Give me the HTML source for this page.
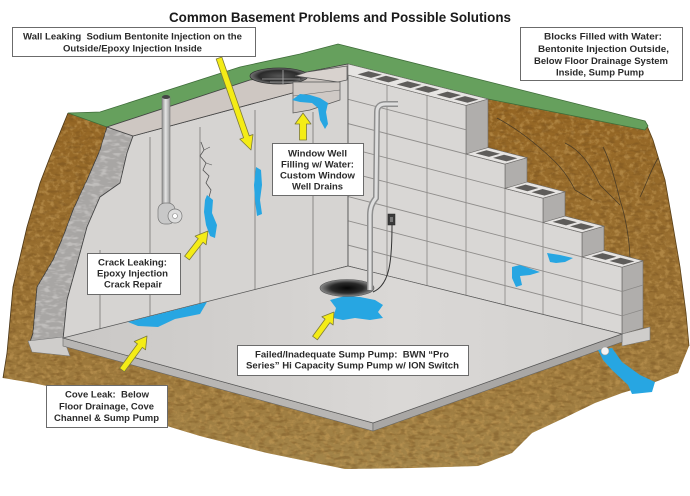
<!DOCTYPE html>
<html><head><meta charset="utf-8"><style>
html,body{margin:0;padding:0;background:#fff;}
svg{display:block;}
text{font-family:"Liberation Sans",Arial,sans-serif;}
</style></head><body>
<svg width="690" height="496" viewBox="0 0 690 496" xmlns="http://www.w3.org/2000/svg">
<defs>
<filter id="mot" filterUnits="userSpaceOnUse" x="0" y="0" width="690" height="496">
<feTurbulence type="fractalNoise" baseFrequency="0.2" numOctaves="3" seed="7" result="n"/>
<feColorMatrix in="n" type="matrix" values="0 0 0 0 0  0 0 0 0 0  0 0 0 0 0  4 0 0 0 -1.9" result="a"/>
<feComposite in="SourceGraphic" in2="a" operator="in"/>
</filter>
<filter id="mot2" filterUnits="userSpaceOnUse" x="0" y="0" width="690" height="496">
<feTurbulence type="fractalNoise" baseFrequency="0.12 0.3" numOctaves="2" seed="3" result="n"/>
<feColorMatrix in="n" type="matrix" values="0 0 0 0 0  0 0 0 0 0  0 0 0 0 0  4 0 0 0 -1.9" result="a"/>
<feComposite in="SourceGraphic" in2="a" operator="in"/>
</filter>
<linearGradient id="earthG" x1="0" y1="0" x2="0" y2="1">
<stop offset="0" stop-color="#93621f"/><stop offset="0.6" stop-color="#9a7234"/><stop offset="1" stop-color="#a3854a"/>
</linearGradient>
<linearGradient id="floorG" x1="0" y1="0" x2="1" y2="0">
<stop offset="0" stop-color="#c9c7c5"/><stop offset="0.6" stop-color="#dad8d6"/><stop offset="1" stop-color="#d3d1cf"/>
</linearGradient>
<linearGradient id="pipeG" x1="0" y1="0" x2="1" y2="0">
<stop offset="0" stop-color="#8e8e8e"/><stop offset="0.45" stop-color="#e6e6e6"/><stop offset="1" stop-color="#9a9a9a"/>
</linearGradient>
<radialGradient id="pitG" cx="0.5" cy="0.5" r="0.5">
<stop offset="0" stop-color="#060606"/><stop offset="0.6" stop-color="#2a2a2a"/><stop offset="1" stop-color="#8a8a8a"/>
</radialGradient>
<radialGradient id="wellG" cx="0.5" cy="0.5" r="0.5">
<stop offset="0" stop-color="#555"/><stop offset="0.7" stop-color="#2a2a2a"/><stop offset="1" stop-color="#777"/>
</radialGradient>
<clipPath id="blockClip">
<polygon points="348,75 466,105.4 466,154 505,164.1 505,188.4 543,198.2 543,222.5 582,232.6 582,256.9 622,267.2 622,334 348,266"/>
</clipPath>
</defs>

<rect width="690" height="496" fill="#fff"/>

<!-- Earth -->
<polygon id="earth" points="68,113 100,112 240,67 300,54 338,44 645,121 653,140 665,180 672,220 680,267 686,313 689,346 678,373 645,386 622,393 595,403 562,419 532,433 512,453 478,466 412,468 345,469 267,453 200,436 167,426 47,386 33,383 3,378 7,353 13,287 27,227 40,183 50,157" fill="url(#earthG)"/>
<polygon points="68,113 100,112 240,67 300,54 338,44 645,121 653,140 665,180 672,220 680,267 686,313 689,346 678,373 645,386 622,393 595,403 562,419 532,433 512,453 478,466 412,468 345,469 267,453 200,436 167,426 47,386 33,383 3,378 7,353 13,287 27,227 40,183 50,157" fill="#c39a56" opacity="0.55" filter="url(#mot)"/>
<polygon points="68,113 100,112 240,67 300,54 338,44 645,121 653,140 665,180 672,220 680,267 686,313 689,346 678,373 645,386 622,393 595,403 562,419 532,433 512,453 478,466 412,468 345,469 267,453 200,436 167,426 47,386 33,383 3,378 7,353 13,287 27,227 40,183 50,157" fill="#6e4a1a" opacity="0.35" filter="url(#mot2)"/>
<polyline points="68,113 50,157 40,183 27,227 13,287 7,353 3,378" fill="none" stroke="#4a3516" stroke-width="0.8"/>
<polyline points="645,121 653,140 665,180 672,220 680,267 686,313 689,346" fill="none" stroke="#5a4018" stroke-width="0.8"/>

<!-- earth cracks right -->
<g fill="none" stroke="#4d3d25" stroke-width="0.8">
<path d="M497,118 C510,125 525,135 540,148 S565,170 575,190 L592,200"/>
<path d="M565,143 C580,150 590,165 595,175 L600,185 C605,190 615,200 620,205"/>
<path d="M603,147 C610,160 615,180 620,200 C625,215 630,240 630,262"/>
<path d="M658,158 C650,172 646,185 640,197"/>
</g>

<!-- Green strip -->
<polygon points="68,113 100,112 240,67 300,54 338,44 645,121 648,126 645,130 488,99 348,64 307,72 250,80 107,127" fill="#66a05d" stroke="#3f6d3a" stroke-width="0.8"/>

<!-- Cut wall (gray rough) -->
<polygon points="107,127 100,150 87,180 73,210 63,237 53,260 37,287 33,333 30,342 63,340 67,300 80,253 87,227 100,197 120,183 127,153 133,136" fill="#a8a6a4" stroke="#3a3a3a" stroke-width="0.8"/>
<polygon points="107,127 100,150 87,180 73,210 63,237 53,260 37,287 33,333 30,342 63,340 67,300 80,253 87,227 100,197 120,183 127,153 133,136" fill="#d0cecc" opacity="0.6" filter="url(#mot2)"/>

<!-- Interior walls -->
<polygon points="133,136 348,78 348,266 63,340 67,300 80,253 87,227 100,197 120,183 127,153" fill="#d6d4d2" stroke="#444" stroke-width="0.8"/>
<!-- sill band -->
<polygon points="107,127 250,80 307,72 348,64 348,78 133,136" fill="#cec7c2" stroke="#444" stroke-width="0.8"/>

<!-- wall panel lines -->
<g stroke="#8a8886" stroke-width="1">
<line x1="100" y1="250" x2="100" y2="330"/>
<line x1="150" y1="137" x2="150" y2="317"/>
<line x1="200" y1="127" x2="200" y2="304"/>
<line x1="255" y1="110" x2="255" y2="290"/>
<line x1="313" y1="112" x2="313" y2="275"/>
</g>
<!-- crack -->
<path d="M201,142 L204,150 L200,156 L206,163 L203,170 L209,176 L206,183 L211,190 L209,197" fill="none" stroke="#555" stroke-width="0.8"/>
<path d="M204,150 L210,147 M206,163 L212,165" fill="none" stroke="#555" stroke-width="0.6"/>

<!-- window well -->
<ellipse cx="279" cy="76" rx="29" ry="8" fill="url(#wellG)" stroke="#333" stroke-width="0.8"/>
<g stroke="#aaa" stroke-width="0.8"><line x1="262" y1="79" x2="300" y2="79"/><line x1="270" y1="82" x2="298" y2="82"/><line x1="283" y1="70" x2="283" y2="84"/></g>
<polygon points="295,76 307,72 347,66 347,80 338,82" fill="#d8d2ce" stroke="#555" stroke-width="0.7"/>
<polygon points="293,82 340,82 340,100 310,110 293,113" fill="#cfc9c5" stroke="#555" stroke-width="0.7"/>
<line x1="293" y1="96" x2="340" y2="90" stroke="#666" stroke-width="0.6"/>

<!-- Block wall side faces -->
<g fill="#b0aeac" stroke="#6a6866" stroke-width="0.6">
<polygon points="466,105.4 488,99 488,160 466,160"/>
<polygon points="505,164.1 527,157.7 527,200 505,200"/>
<polygon points="543,198.2 565,191.8 565,235 543,235"/>
<polygon points="582,232.6 604,226.2 604,270 582,270"/>
<polygon points="622,267.2 643,261 643,328 622,334"/>
</g>
<!-- Block front face -->
<polygon points="348,75 466,105.4 466,154 505,164.1 505,188.4 543,198.2 543,222.5 582,232.6 582,256.9 622,267.2 622,334 348,266" fill="#d9d7d5" stroke="#6a6866" stroke-width="0.7"/>
<g clip-path="url(#blockClip)" stroke="#8f8d8b" stroke-width="0.9">
<line x1="348" y1="99.3" x2="622" y2="170"/>
<line x1="348" y1="123.6" x2="622" y2="194.3"/>
<line x1="348" y1="147.9" x2="622" y2="218.6"/>
<line x1="348" y1="172.2" x2="622" y2="242.9"/>
<line x1="348" y1="196.5" x2="622" y2="267.2"/>
<line x1="348" y1="220.8" x2="622" y2="291.5"/>
<line x1="348" y1="245.1" x2="622" y2="315.8"/>
<line x1="387" y1="60" x2="387" y2="340"/>
<line x1="427" y1="60" x2="427" y2="340"/>
<line x1="466" y1="60" x2="466" y2="340"/>
<line x1="505" y1="60" x2="505" y2="340"/>
<line x1="543" y1="60" x2="543" y2="340"/>
<line x1="582" y1="60" x2="582" y2="340"/>
</g>
<line x1="348" y1="64" x2="348" y2="266" stroke="#555" stroke-width="0.8"/>
<!-- side face row lines -->
<g stroke="#8a8886" stroke-width="0.7">
<line x1="622" y1="291.5" x2="643" y2="285"/>
<line x1="622" y1="315.8" x2="643" y2="309.5"/>
</g>
<!-- Block top faces -->
<g fill="#e6e4e2" stroke="#6a6866" stroke-width="0.6">
<polygon points="348,75 466,105.4 488,99 348,64"/>
<polygon points="466,154 505,164.1 527,157.7 488,147.6"/>
<polygon points="505,188.4 543,198.2 565,191.8 527,182"/>
<polygon points="543,222.5 582,232.6 604,226.2 565,216.1"/>
<polygon points="582,256.9 622,267.2 643,260.8 604,250.5"/>
</g>
<g fill="#5e5c5a">
<polygon points="357.5,74.4 371,77.9 382,74.7 368.5,71.2"/>
<polygon points="375,78.9 388.5,82.4 399.5,79.2 386,75.7"/>
<polygon points="396.5,84.5 410.5,88.1 421.5,84.9 407.5,81.3"/>
<polygon points="414.5,89.1 428.5,92.8 439.5,89.6 425.5,85.9"/>
<polygon points="436.5,94.8 450,98.3 461,95.1 447.5,91.6"/>
<polygon points="454,99.3 467.5,102.8 478.5,99.6 465,96.1"/>
<polygon points="475.5,153.4 489,156.9 500,153.7 486.5,150.2"/>
<polygon points="493,157.9 506.5,161.4 517.5,158.2 504,154.7"/>
<polygon points="514.5,187.8 527.5,191.2 538.5,188 525.5,184.6"/>
<polygon points="531.5,192.2 544.5,195.6 555.5,192.4 542.5,189"/>
<polygon points="552.5,221.9 566,225.4 577,222.2 563.5,218.7"/>
<polygon points="570,226.4 583.5,229.9 594.5,226.7 581,223.2"/>
<polygon points="591.5,256.3 605.5,259.9 616.5,256.7 602.5,253.1"/>
<polygon points="609.5,261 623.5,264.6 634.5,261.4 620.5,257.8"/>
</g>

<!-- Floor -->
<polygon points="28,341 63,337 70,356 32,352" fill="#cfcdcb" stroke="#777" stroke-width="0.6"/>
<polygon points="622,334 650,327 650,340 622,346" fill="#cfcdcb" stroke="#777" stroke-width="0.6"/>
<polygon points="63,338 373,423 373,431 63,346" fill="#b8b6b4" stroke="#666" stroke-width="0.6"/>
<polygon points="373,423 622,334 622,342 373,431" fill="#a9a7a5" stroke="#666" stroke-width="0.6"/>
<polygon points="63,338 348,266 622,334 373,423" fill="url(#floorG)" stroke="#555" stroke-width="0.7"/>

<!-- Water -->
<g fill="#27a6e2">
<polygon points="128,322 207,302 200,314 175,319 158,327 138,326"/>
<polygon points="256,167 261,170 262,185 260,200 262,214 257,216 255,200 254,185"/>
<polygon points="207,195 213,200 212,213 217,225 215,238 210,236 206,225 204,212 205,200"/>
<polygon points="292,100 300,94 310,95 320,98 328,103 326,112 328,124 325,129 320,120 318,108 312,103 300,102"/>
<polygon points="512,267 520,265 540,272 530,275 520,276 522,285 516,287 512,278"/>
<polygon points="547,253 560,255 573,258 565,262 556,263 550,262"/>
<polygon points="330,300 345,296 360,297 375,300 383,305 378,312 383,318 370,320 355,318 343,320 333,318 336,308"/>
<polygon points="598,350 612,348 622,362 640,375 655,382 652,392 632,394 628,385 612,370 603,360"/>
</g>
<circle cx="605" cy="351" r="4" fill="#f4f4f4" stroke="#999" stroke-width="0.6"/>

<!-- Sump pit -->
<ellipse cx="347" cy="288" rx="27" ry="8.5" fill="url(#pitG)" stroke="#555" stroke-width="0.6"/>
<!-- sump pipe -->
<path d="M370,290 L370,215 Q370,205 376,198 L377,112 Q377,104 386,104 L398,104" fill="none" stroke="#8e8e8e" stroke-width="6"/>
<path d="M370,290 L370,215 Q370,205 376,198 L377,112 Q377,104 386,104 L398,104" fill="none" stroke="#dedede" stroke-width="3"/>
<!-- outlet and cord -->
<rect x="388" y="214" width="7" height="11" fill="#3a3a3a" stroke="#222" stroke-width="0.5"/>
<rect x="390" y="217" width="3" height="5" fill="#777"/>
<path d="M392,225 C392,260 390,285 373,292" fill="none" stroke="#333" stroke-width="1"/>

<!-- left pipe -->
<rect x="162" y="97" width="8" height="113" fill="url(#pipeG)" stroke="#777" stroke-width="0.6"/>
<ellipse cx="166" cy="97" rx="4" ry="2" fill="#444"/>
<rect x="158" y="203" width="17" height="21" rx="7" fill="#c8c8c8" stroke="#777" stroke-width="0.7"/>
<circle cx="175" cy="216" r="7" fill="#dcdcdc" stroke="#777" stroke-width="0.7"/>
<circle cx="175" cy="216" r="2.5" fill="#fff" stroke="#888" stroke-width="0.6"/>

<!-- Arrows -->
<g fill="#f4ec16" stroke="#7d7a3a" stroke-width="0.8" stroke-linejoin="round">
<polygon points="216.17,58.99 243.57,137.79 239.79,139.1 251,150 253.01,134.5 249.23,135.81 221.83,57.01"/>
<polygon points="306.5,140 306.5,124 311,124 303,113 295,124 299.5,124 299.5,140"/>
<polygon points="189.37,259.84 203,242.31 206.15,244.77 208,231 195.11,236.17 198.26,238.63 184.63,256.16"/>
<polygon points="124.42,371.78 142.32,347.45 145.54,349.81 147,336 134.26,341.53 137.48,343.89 119.58,368.22"/>
<polygon points="317.42,339.77 329.93,322.65 333.16,325.01 334,312 321.86,316.75 325.09,319.11 312.58,336.23"/>
</g>

<!-- Label boxes -->
<g fill="#fff" stroke="#6b6b6b" stroke-width="1">
<rect x="12.5" y="27.5" width="243" height="29"/>
<rect x="520.5" y="27.5" width="162" height="53"/>
<rect x="272.5" y="143.5" width="91" height="52"/>
<rect x="87.5" y="253.5" width="93" height="41"/>
<rect x="46.5" y="385.5" width="121" height="42"/>
<rect x="237.5" y="345.5" width="231" height="30"/>
</g>

<g font-size="9.3" font-weight="bold" fill="#2a2a2a" lengthAdjust="spacingAndGlyphs">
<text x="23" y="39.5" textLength="219" lengthAdjust="spacingAndGlyphs">Wall Leaking&#160; Sodium Bentonite Injection on the</text>
<text x="63" y="51.5" textLength="139" lengthAdjust="spacingAndGlyphs">Outside/Epoxy Injection Inside</text>

<text x="544" y="39.5" textLength="118" lengthAdjust="spacingAndGlyphs">Blocks Filled with Water:</text>
<text x="538" y="52" textLength="131" lengthAdjust="spacingAndGlyphs">Bentonite Injection Outside,</text>
<text x="534" y="64" textLength="134" lengthAdjust="spacingAndGlyphs">Below Floor Drainage System</text>
<text x="556" y="75.5" textLength="88" lengthAdjust="spacingAndGlyphs">Inside, Sump Pump</text>

<text x="288" y="156.5" textLength="59" lengthAdjust="spacingAndGlyphs">Window Well</text>
<text x="281" y="167.5" textLength="73" lengthAdjust="spacingAndGlyphs">Filling w/ Water:</text>
<text x="280" y="178.5" textLength="75" lengthAdjust="spacingAndGlyphs">Custom Window</text>
<text x="292" y="189.5" textLength="51" lengthAdjust="spacingAndGlyphs">Well Drains</text>

<text x="98" y="265.5" textLength="69" lengthAdjust="spacingAndGlyphs">Crack Leaking:</text>
<text x="97" y="276.5" textLength="71" lengthAdjust="spacingAndGlyphs">Epoxy Injection</text>
<text x="104" y="287.5" textLength="58" lengthAdjust="spacingAndGlyphs">Crack Repair</text>

<text x="65" y="397.5" textLength="84" lengthAdjust="spacingAndGlyphs">Cove Leak:&#160; Below</text>
<text x="59" y="409.5" textLength="95" lengthAdjust="spacingAndGlyphs">Floor Drainage, Cove</text>
<text x="54" y="421" textLength="105" lengthAdjust="spacingAndGlyphs">Channel &amp; Sump Pump</text>

<text x="255" y="357.5" textLength="194" lengthAdjust="spacingAndGlyphs">Failed/Inadequate Sump Pump:&#160; BWN “Pro</text>
<text x="246" y="368.5" textLength="213" lengthAdjust="spacingAndGlyphs">Series” Hi Capacity Sump Pump w/ ION Switch</text>
</g>

<text x="169" y="22" font-size="13.5" font-weight="bold" fill="#1a1a1a" textLength="342" lengthAdjust="spacingAndGlyphs">Common Basement Problems and Possible Solutions</text>
</svg>
</body></html>
